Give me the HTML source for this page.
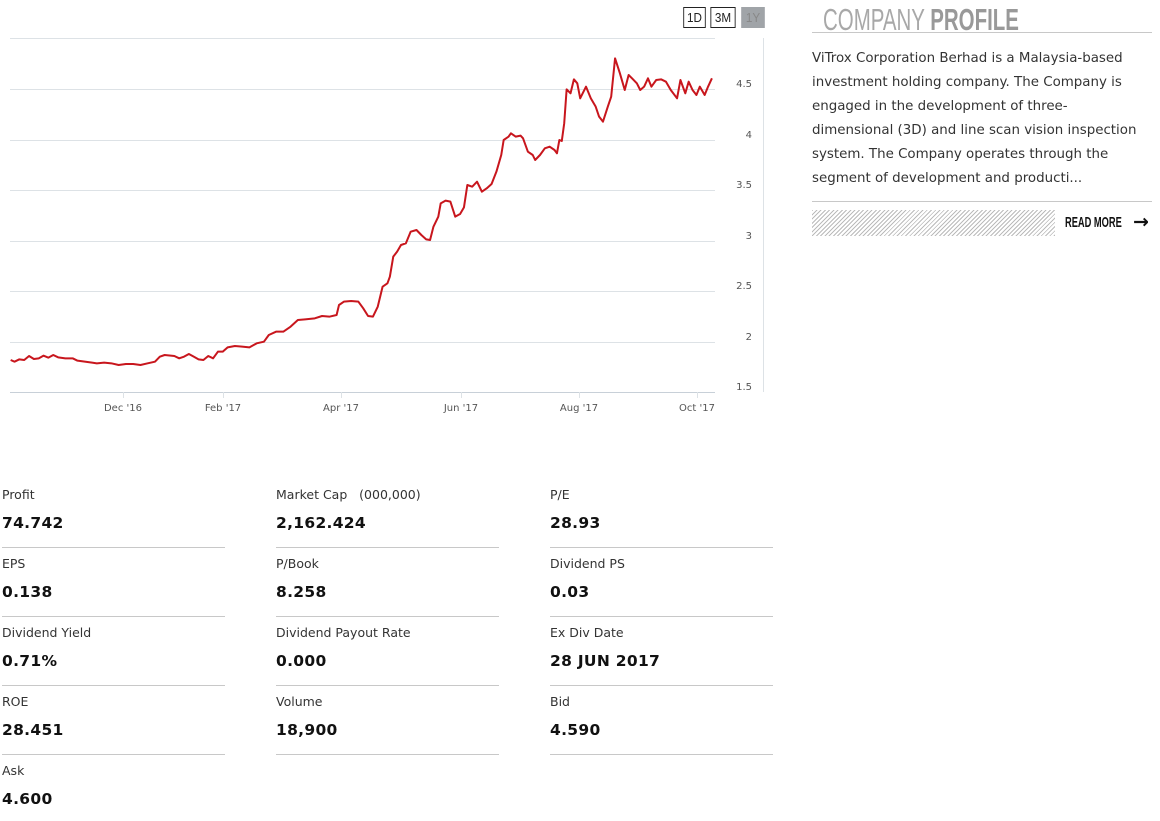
<!DOCTYPE html>
<html><head><meta charset="utf-8"><style>
body{margin:0;width:1160px;height:821px;background:#fff;position:relative;overflow:hidden;font-family:"DejaVu Sans","Liberation Sans",sans-serif;color:#222}
.a{position:absolute;white-space:nowrap}
.lb{font-size:12.5px;color:#333}
.vl{font-size:15.5px;font-weight:bold;color:#111;letter-spacing:0.3px}
.sep{position:absolute;height:1px;background:#c8c8c8;width:223px}
.btn{position:absolute;top:7px;height:19px;border:1px solid #222;font:13px "Liberation Sans",sans-serif;text-align:center;line-height:19px;transform:scaleX(0.9)}
.p{font-size:13.4px;color:#333;line-height:24px}
</style></head><body>
<div class="btn" style="left:682px;width:23px">1D</div>
<div class="btn" style="left:709px;width:26px">3M</div>
<div class="btn" style="left:740px;width:24px;background:#a0a4a8;border-color:#a0a4a8;color:#888">1Y</div>

<svg class="a" style="left:0;top:0" width="780" height="420">
<g stroke="#dde2e6" stroke-width="1">
<line x1="10" y1="38.5" x2="715" y2="38.5"/>
<line x1="10" y1="89.5" x2="715" y2="89.5"/>
<line x1="10" y1="140.5" x2="715" y2="140.5"/>
<line x1="10" y1="190.5" x2="715" y2="190.5"/>
<line x1="10" y1="241.5" x2="715" y2="241.5"/>
<line x1="10" y1="291.5" x2="715" y2="291.5"/>
<line x1="10" y1="342.5" x2="715" y2="342.5"/>
<line x1="10" y1="392.5" x2="715" y2="392.5" stroke="#c8d0d8"/>
<line x1="763.5" y1="38" x2="763.5" y2="392"/>
<line x1="123.5" y1="392" x2="123.5" y2="398"/>
<line x1="223.5" y1="392" x2="223.5" y2="398"/>
<line x1="341.5" y1="392" x2="341.5" y2="398"/>
<line x1="461.5" y1="392" x2="461.5" y2="398"/>
<line x1="579.5" y1="392" x2="579.5" y2="398"/>
<line x1="697.5" y1="392" x2="697.5" y2="398"/>
</g>
<g font-family="DejaVu Sans,sans-serif" font-size="10" fill="#555" text-anchor="middle">
<text x="123" y="411">Dec '16</text><text x="223" y="411">Feb '17</text><text x="341" y="411">Apr '17</text>
<text x="461" y="411">Jun '17</text><text x="579" y="411">Aug '17</text><text x="697" y="411">Oct '17</text>
</g>
<g font-family="DejaVu Sans,sans-serif" font-size="10" fill="#555" text-anchor="end">
<text x="752" y="87">4.5</text><text x="752" y="138">4</text><text x="752" y="188">3.5</text><text x="752" y="239">3</text>
<text x="752" y="289">2.5</text><text x="752" y="340">2</text><text x="752" y="390">1.5</text>
</g>
<g transform="translate(0,40) scale(0.4843,0.333333)">
<polyline fill="none" stroke="#c8161d" stroke-width="2" vector-effect="non-scaling-stroke" stroke-linejoin="round" points="22,960 30,965 40,958 50,960 60,948 70,957 80,955 90,947 100,953 110,945 120,952 135,955 150,955 160,962 175,965 190,968 200,970 215,968 230,970 245,975 260,972 275,972 290,975 305,970 320,965 330,950 340,945 360,948 370,955 380,950 390,942 400,950 410,958 420,960 430,948 440,955 450,935 460,935 470,922 485,918 500,920 515,922 530,910 545,905 555,885 570,875 585,875 600,860 615,840 630,838 650,835 665,828 680,830 695,825 700,795 710,785 725,783 740,785 750,805 760,828 770,830 780,800 790,740 800,730 805,710 812,650 820,635 828,615 838,610 848,575 860,570 870,585 880,598 888,600 895,560 905,530 910,490 920,482 930,485 940,530 950,522 958,502 965,435 975,440 985,425 995,455 1005,445 1015,432 1025,395 1035,345 1040,300 1050,290 1055,280 1065,290 1075,287 1080,295 1090,335 1100,345 1105,360 1115,345 1125,325 1135,320 1145,330 1150,340 1155,300 1160,303 1165,250 1170,148 1178,160 1185,118 1192,130 1198,175 1210,140 1220,175 1230,200 1237,230 1245,245 1255,200 1262,170 1270,55 1280,100 1290,150 1298,105 1305,115 1315,130 1322,150 1330,140 1338,115 1345,140 1355,120 1365,118 1375,125 1385,150 1398,175 1405,120 1415,160 1422,125 1430,150 1438,165 1445,140 1455,165 1462,140 1470,115"/>
</g>
</svg>

<div class="a" style="left:823px;top:2px;font:31px 'Liberation Sans',sans-serif;color:#a8a8a8;transform:scaleX(0.66);transform-origin:left">COMPANY <b style="color:#999">PROFILE</b></div>
<div class="a" style="left:812px;top:32px;width:340px;height:1px;background:#c8c8c8"></div>
<div class="a p" style="left:812px;top:47px">ViTrox Corporation Berhad is a Malaysia-based<br>investment holding company. The Company is<br>engaged in the development of three-<br>dimensional (3D) and line scan vision inspection<br>system. The Company operates through the<br>segment of development and producti...</div>
<div class="a" style="left:812px;top:201px;width:340px;height:1px;background:#c8c8c8"></div>
<div class="a" style="left:812px;top:210px;width:243px;height:26px;background:repeating-linear-gradient(135deg,#bbb 0 1px,#fff 1px 3px)"></div>
<div class="a" style="left:1065px;top:214px;font:bold 15px 'Liberation Sans',sans-serif;color:#111;transform:scaleX(0.62);transform-origin:left">READ MORE</div>
<div class="a" style="left:1133px;top:211px;font:bold 19px 'DejaVu Sans',sans-serif;color:#111">→</div>

<div class="a lb" style="left:2px;top:487px">Profit</div><div class="a vl" style="left:2px;top:514px">74.742</div>
<div class="a lb" style="left:276px;top:487px">Market Cap &nbsp;&nbsp;(000,000)</div><div class="a vl" style="left:276px;top:514px">2,162.424</div>
<div class="a lb" style="left:550px;top:487px">P/E</div><div class="a vl" style="left:550px;top:514px">28.93</div>
<div class="sep" style="left:2px;top:547px"></div><div class="sep" style="left:276px;top:547px"></div><div class="sep" style="left:550px;top:547px"></div>

<div class="a lb" style="left:2px;top:556px">EPS</div><div class="a vl" style="left:2px;top:583px">0.138</div>
<div class="a lb" style="left:276px;top:556px">P/Book</div><div class="a vl" style="left:276px;top:583px">8.258</div>
<div class="a lb" style="left:550px;top:556px">Dividend PS</div><div class="a vl" style="left:550px;top:583px">0.03</div>
<div class="sep" style="left:2px;top:616px"></div><div class="sep" style="left:276px;top:616px"></div><div class="sep" style="left:550px;top:616px"></div>

<div class="a lb" style="left:2px;top:625px">Dividend Yield</div><div class="a vl" style="left:2px;top:652px">0.71%</div>
<div class="a lb" style="left:276px;top:625px">Dividend Payout Rate</div><div class="a vl" style="left:276px;top:652px">0.000</div>
<div class="a lb" style="left:550px;top:625px">Ex Div Date</div><div class="a vl" style="left:550px;top:652px">28 JUN 2017</div>
<div class="sep" style="left:2px;top:685px"></div><div class="sep" style="left:276px;top:685px"></div><div class="sep" style="left:550px;top:685px"></div>

<div class="a lb" style="left:2px;top:694px">ROE</div><div class="a vl" style="left:2px;top:721px">28.451</div>
<div class="a lb" style="left:276px;top:694px">Volume</div><div class="a vl" style="left:276px;top:721px">18,900</div>
<div class="a lb" style="left:550px;top:694px">Bid</div><div class="a vl" style="left:550px;top:721px">4.590</div>
<div class="sep" style="left:2px;top:754px"></div><div class="sep" style="left:276px;top:754px"></div><div class="sep" style="left:550px;top:754px"></div>

<div class="a lb" style="left:2px;top:763px">Ask</div><div class="a vl" style="left:2px;top:790px">4.600</div>
</body></html>
